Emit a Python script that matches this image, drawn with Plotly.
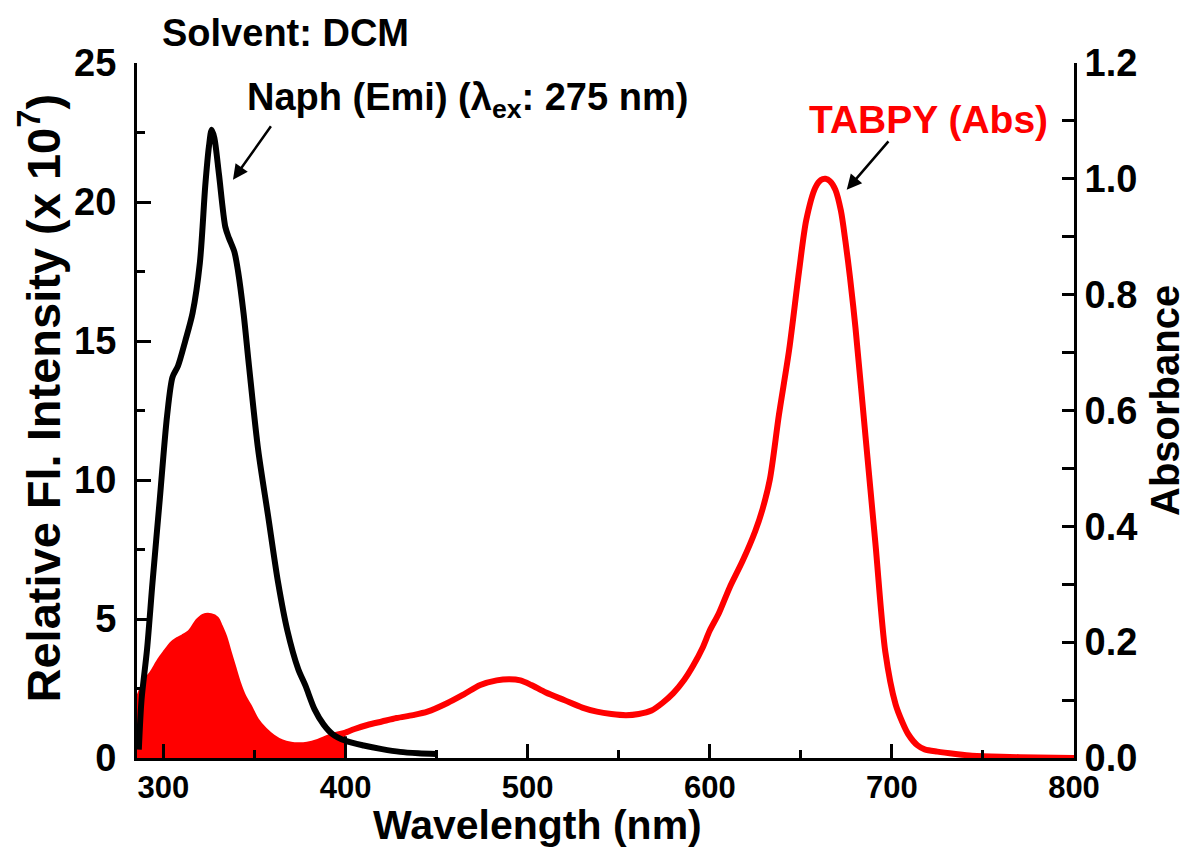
import plotly.graph_objects as go

# Naph emission spectrum (relative fluorescence intensity, x 10^7)
naph_nm = [286.5, 288, 291, 294, 298, 302, 305, 308, 312, 316, 320, 323, 325,
           326.5, 328, 330.5, 334, 336, 339, 341, 344, 347, 352, 357.5, 363,
           368, 374, 378, 383, 388, 393, 400, 410, 420, 430, 440, 450]
naph_int = [0.3, 2.1, 3.9, 6.3, 9.3, 12.3, 13.7, 14.1, 15.0, 16.0, 17.8, 20.6, 22.0,
            22.6, 22.3, 21.0, 19.1, 18.7, 18.2, 17.5, 16.0, 14.1, 11.1, 8.7, 6.3,
            4.6, 3.2, 2.6, 1.75, 1.2, 0.85, 0.62, 0.45, 0.32, 0.22, 0.17, 0.14]

# TABPY absorption spectrum
tabpy_nm = [285.5, 290, 294, 298, 301, 305, 308, 311, 315, 319, 322, 326, 329, 331,
            333.5, 336, 338.5, 341, 344, 347, 351, 355.5, 360, 365, 370, 374, 379,
            385, 392, 399, 400, 405, 412, 420, 428, 437, 445, 456, 465, 474, 483,
            490, 496, 502, 510, 520, 530, 538, 546, 554, 561, 568, 574, 580, 586,
            591, 596, 600, 605, 611, 618, 625, 629, 633, 638, 643.6, 649, 653, 658,
            661, 663.6, 666, 669, 672, 674.5, 677, 680, 685.5, 691, 696.4, 702, 706,
            709, 714, 718, 725, 735, 744, 760, 780, 800]
tabpy_abs = [0.095, 0.13, 0.147, 0.168, 0.181, 0.197, 0.204, 0.209, 0.218, 0.236,
             0.244, 0.245, 0.240, 0.227, 0.208, 0.181, 0.155, 0.129, 0.105, 0.089,
             0.065, 0.048, 0.036, 0.027, 0.023, 0.022, 0.023, 0.028, 0.037, 0.043,
             0.044, 0.050, 0.057, 0.063, 0.069, 0.074, 0.080, 0.095, 0.110, 0.126,
             0.134, 0.136, 0.134, 0.126, 0.113, 0.100, 0.087, 0.080, 0.076, 0.074,
             0.076, 0.082, 0.095, 0.112, 0.135, 0.160, 0.19, 0.22, 0.25, 0.295,
             0.34, 0.392, 0.43, 0.481, 0.593, 0.705, 0.84, 0.929, 0.985, 0.998,
             1.0, 0.996, 0.981, 0.945, 0.892, 0.83, 0.743, 0.556, 0.369, 0.183,
             0.093, 0.06, 0.041, 0.022, 0.015, 0.011, 0.007, 0.004, 0.002, 0.001, 0.0]

# overlap region shaded under the absorption curve
overlap_end = 400

x_range = [285.5, 800]
int_range = [0, 25]
abs_range = [0, 1.2]

RED = "#FF0000"
FONT = "Liberation Sans, Arial, sans-serif"

fill_nm = [n for n in tabpy_nm if n <= overlap_end]
fill_abs = tabpy_abs[:len(fill_nm)]

fig = go.Figure()

fig.add_trace(go.Scatter(x=fill_nm, y=fill_abs, mode="lines", fill="tozeroy",
                         fillcolor=RED, line=dict(color=RED, width=1, shape="spline",
                                                  smoothing=0.8),
                         yaxis="y", hoverinfo="skip", showlegend=False))
fig.add_trace(go.Scatter(x=[overlap_end, overlap_end], y=[0, fill_abs[-1] * 0.85],
                         mode="lines", line=dict(color="black", width=3),
                         yaxis="y", showlegend=False, hoverinfo="skip"))
fig.add_trace(go.Scatter(x=tabpy_nm, y=tabpy_abs, mode="lines",
                         line=dict(color=RED, width=6, shape="spline", smoothing=0.8),
                         yaxis="y", name="TABPY (Abs)", showlegend=False))
fig.add_trace(go.Scatter(x=naph_nm, y=naph_int, mode="lines",
                         line=dict(color="black", width=6, shape="spline", smoothing=0.8),
                         yaxis="y2", name="Naph (Emi)", showlegend=False))

axis_common = dict(showline=True, linewidth=3, linecolor="black", showgrid=False,
                   zeroline=False, ticks="inside", tickwidth=3, tickcolor="black")

fig.update_layout(
    width=1190, height=849,
    margin=dict(l=137, r=116, t=63, b=91),
    paper_bgcolor="white", plot_bgcolor="white",
    xaxis=dict(range=x_range, tick0=300, dtick=100, ticklen=14,
               tickfont=dict(family=FONT, size=31, color="black", weight="bold"),
               minor=dict(dtick=50, ticklen=8, tickwidth=3, ticks="inside",
                          tickcolor="black", showgrid=False),
               **axis_common),
    yaxis=dict(range=abs_range, side="right", dtick=0.2, tickformat=".1f", ticklen=12,
               tickfont=dict(family=FONT, size=38, color="black", weight="bold"),
               minor=dict(dtick=0.1, ticklen=12, tickwidth=3, ticks="inside",
                          tickcolor="black", showgrid=False),
               **axis_common),
    yaxis2=dict(range=int_range, side="left", overlaying="y", dtick=5, ticklen=14,
                ticklabelstandoff=10,
                tickfont=dict(family=FONT, size=38, color="black", weight="bold"),
                minor=dict(dtick=2.5, ticklen=8, tickwidth=3, ticks="inside",
                           tickcolor="black", showgrid=False),
                **axis_common),
)

annotations = [
    dict(text="Wavelength (nm)", x=0.427, y=-0.097, xref="paper", yref="paper",
         showarrow=False, xanchor="center", yanchor="middle",
         font=dict(family=FONT, size=41, color="black", weight="bold")),
    dict(text="Relative Fl. Intensity (x 10<sup>7</sup>)", x=-0.103, y=0.518,
         xref="paper", yref="paper", showarrow=False, textangle=-90,
         xanchor="center", yanchor="middle",
         font=dict(family=FONT, size=47, color="black", weight="bold")),
    dict(text="Absorbance", x=1.097, y=0.515, xref="paper", yref="paper",
         showarrow=False, textangle=-90, xanchor="center", yanchor="middle",
         font=dict(family=FONT, size=40, color="black", weight="bold")),
    dict(text="Solvent: DCM", x=0.158, y=1.043, xref="paper", yref="paper",
         showarrow=False, xanchor="center", yanchor="middle",
         font=dict(family=FONT, size=38, color="black", weight="bold")),
    dict(text="Naph (Emi) (λ<sub>ex</sub>: 275 nm)", x=0.1153, y=0.947,
         xref="paper", yref="paper", showarrow=False, xanchor="left", yanchor="middle",
         font=dict(family=FONT, size=38, color="black", weight="bold")),
    dict(text="TABPY (Abs)", x=0.715, y=0.918, xref="paper", yref="paper",
         showarrow=False, xanchor="left", yanchor="middle",
         font=dict(family=FONT, size=39, color=RED, weight="bold")),
    # arrows pointing at the two band maxima
    dict(x=338.2, y=20.8, xref="x", yref="y2", ax=39, ay=-55, text="",
         showarrow=True, arrowhead=2, arrowsize=1.2, arrowwidth=2.5, arrowcolor="black"),
    dict(x=675.2, y=0.981, xref="x", yref="y", ax=43, ay=-50, text="",
         showarrow=True, arrowhead=2, arrowsize=1.2, arrowwidth=2.5, arrowcolor="black"),
]
fig.update_layout(annotations=annotations)

fig.write_html("out.html")
